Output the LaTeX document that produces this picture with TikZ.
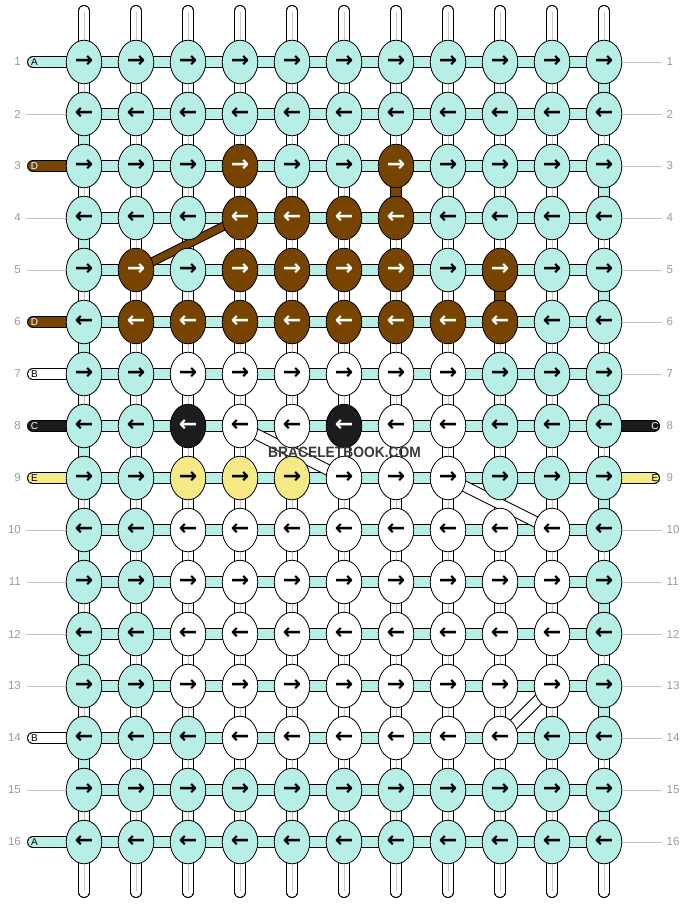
\documentclass[tikz,border=0pt]{standalone}
\usepackage{fontspec}
\setmainfont{Liberation Sans}
\newfontfamily\arrowfont{DejaVu Sans}
\usetikzlibrary{shapes.geometric}
\pgfdeclarelayer{strands}
\pgfsetlayers{strands,main}
\definecolor{mint}{HTML}{B7EFE6}
\definecolor{brn}{HTML}{774400}
\definecolor{blk}{HTML}{1C1B1D}
\definecolor{ylw}{HTML}{F6EA86}
\definecolor{numgray}{HTML}{9A9A9A}
\definecolor{linegray}{HTML}{C2C2C2}
\definecolor{midgray}{HTML}{C8C8C8}
\definecolor{wmgray}{HTML}{3A3A3A}
\newcommand\knotrow[2]{%
  \foreach \cc [count=\c] in {#2} {%
    \node[knot,k\cc] (k-#1-\c) at ({84+52*(\c-1)},{62+52*(#1-1)}) {\ifodd#1 →\else ←\fi};
  }%
}
\begin{document}
\begin{tikzpicture}[x=1pt,y=-1pt,
  knot/.style={ellipse, draw=black, line width=0.8pt, minimum width=35.5pt,
    minimum height=43.5pt, inner sep=0pt,
    font=\arrowfont\bfseries\fontsize{22}{22}\selectfont},
  km/.style={fill=mint, text=black},
  kw/.style={fill=white, text=black},
  kb/.style={fill=brn, text=white},
  kk/.style={fill=blk, text=white},
  ky/.style={fill=ylw, text=black},
  vout/.style={line width=11.5pt, draw=black},
  vin/.style={line width=9.5pt},
  hout/.style={line width=12pt, draw=black},
  hin/.style={line width=10pt},
  grayline/.style={draw=linegray, line width=0.9pt},
  rownum/.style={text=numgray, font=\fontsize{11.5}{12}\selectfont, inner sep=0pt},
  lbl/.style={font=\fontsize{10}{10}\selectfont, inner sep=0pt},
]
\useasboundingbox (0,0) rectangle (688,904);

% knots
\knotrow{1}{m,m,m,m,m,m,m,m,m,m,m}
\knotrow{2}{m,m,m,m,m,m,m,m,m,m,m}
\knotrow{3}{m,m,m,b,m,m,b,m,m,m,m}
\knotrow{4}{m,m,m,b,b,b,b,m,m,m,m}
\knotrow{5}{m,b,m,b,b,b,b,m,b,m,m}
\knotrow{6}{m,b,b,b,b,b,b,b,b,m,m}
\knotrow{7}{m,m,w,w,w,w,w,w,m,m,m}
\knotrow{8}{m,m,k,w,w,k,w,w,m,m,m}
\knotrow{9}{m,m,y,y,y,w,w,w,m,m,m}
\knotrow{10}{m,m,w,w,w,w,w,w,w,w,m}
\knotrow{11}{m,m,w,w,w,w,w,w,w,w,m}
\knotrow{12}{m,m,w,w,w,w,w,w,w,w,m}
\knotrow{13}{m,m,w,w,w,w,w,w,w,w,m}
\knotrow{14}{m,m,m,w,w,w,w,w,w,m,m}
\knotrow{15}{m,m,m,m,m,m,m,m,m,m,m}
\knotrow{16}{m,m,m,m,m,m,m,m,m,m,m}

% end coordinates of vertical strands
\foreach \c in {1,...,11} {
  \coordinate (top-\c) at ({84+52*(\c-1)},10.75);
  \coordinate (bot-\c) at ({84+52*(\c-1)},892.25);
}

% row numbers and edge coordinates
\foreach \r in {1,...,16} {
  \node[rownum, anchor=east] (nl-\r) at (21,{62+52*(\r-1)}) {\r};
  \node[rownum, anchor=west] (nr-\r) at (666.5,{62+52*(\r-1)}) {\r};
  \coordinate (L-\r) at (33,{62+52*(\r-1)});
  \coordinate (LG-\r) at (27,{62+52*(\r-1)});
  \coordinate (R-\r) at (654,{62+52*(\r-1)});
  \coordinate (RG-\r) at (662,{62+52*(\r-1)});
}

% strand labels
\foreach \r/\t/\tc in {1/A/black,3/D/white,6/D/white,7/B/black,8/C/white,9/E/black,14/B/black,16/A/black} {
  \node[lbl, text=\tc] (la-\r) at (34.5,{62+52*(\r-1)}) {\t};
}
\foreach \r/\t/\tc in {8/C/white,9/E/black} {
  \node[lbl, text=\tc] (ra-\r) at (655,{62+52*(\r-1)}) {\t};
}

% watermark
\node[font=\bfseries\fontsize{15}{15}\selectfont, text=wmgray, inner sep=0pt] (wm) at (344.5,452.5)
  {\scalebox{0.92}[1]{BRACELETBOOK.COM}};

\begin{pgfonlayer}{strands}
  % vertical white strands
  \foreach \c in {1,...,11} {
    \draw[vout, line cap=round] (top-\c) -- (bot-\c);
    \draw[vin, white, line cap=round] (top-\c) -- (bot-\c);
    \draw[midgray, line width=1pt] ([yshift=-1pt]top-\c) -- ([yshift=1pt]bot-\c);
  }
  % coloured vertical segments
  \foreach \c/\r/\col in {11/1/mint,11/3/mint,11/5/mint,11/7/mint,11/9/mint,11/11/mint,11/13/mint,11/15/mint,
                           1/2/mint,1/4/mint,1/6/mint,1/8/mint,1/10/mint,1/12/mint,1/14/mint,
                           7/3/brn,9/5/brn} {
    \pgfmathtruncatemacro\rn{\r+1}
    \draw[vout] (k-\r-\c.center) -- (k-\rn-\c.center);
    \draw[vin, draw=\col] (k-\r-\c.center) -- (k-\rn-\c.center);
  }
  % horizontal strands
  \foreach \r in {1,...,16} {
    \draw[hout] (k-\r-1.center) -- (k-\r-11.center);
    \draw[hin, mint] (k-\r-1.center) -- (k-\r-11.center);
  }
  % left edge strands
  \foreach \r/\col in {1/mint,3/brn,6/brn,7/white,8/blk,9/ylw,14/white,16/mint} {
    \draw[hout, line cap=round] (L-\r) -- (k-\r-1.center);
    \draw[hin, draw=\col, line cap=round] (L-\r) -- (k-\r-1.center);
  }
  \foreach \r in {2,4,5,10,11,12,13,15} {
    \draw[grayline] (LG-\r) -- (k-\r-1.west);
  }
  % right edge strands
  \foreach \r/\col in {8/blk,9/ylw} {
    \draw[hout, line cap=round] (k-\r-11.center) -- (R-\r);
    \draw[hin, draw=\col, line cap=round] (k-\r-11.center) -- (R-\r);
  }
  \foreach \r in {1,2,3,4,5,6,7,10,11,12,13,14,15,16} {
    \draw[grayline] (k-\r-11.east) -- (RG-\r);
  }
  % diagonal strands
  \draw[line width=9pt, black] (k-5-2.center) -- (k-4-4.center);
  \draw[line width=7pt, brn] (k-5-2.center) -- (k-4-4.center);
  \foreach \a/\b in {k-8-4/k-9-6, k-9-8/k-10-10, k-14-9/k-13-10} {
    \draw[vout] (\a.center) -- (\b.center);
    \draw[vin, white] (\a.center) -- (\b.center);
  }
\end{pgfonlayer}
\end{tikzpicture}
\end{document}
